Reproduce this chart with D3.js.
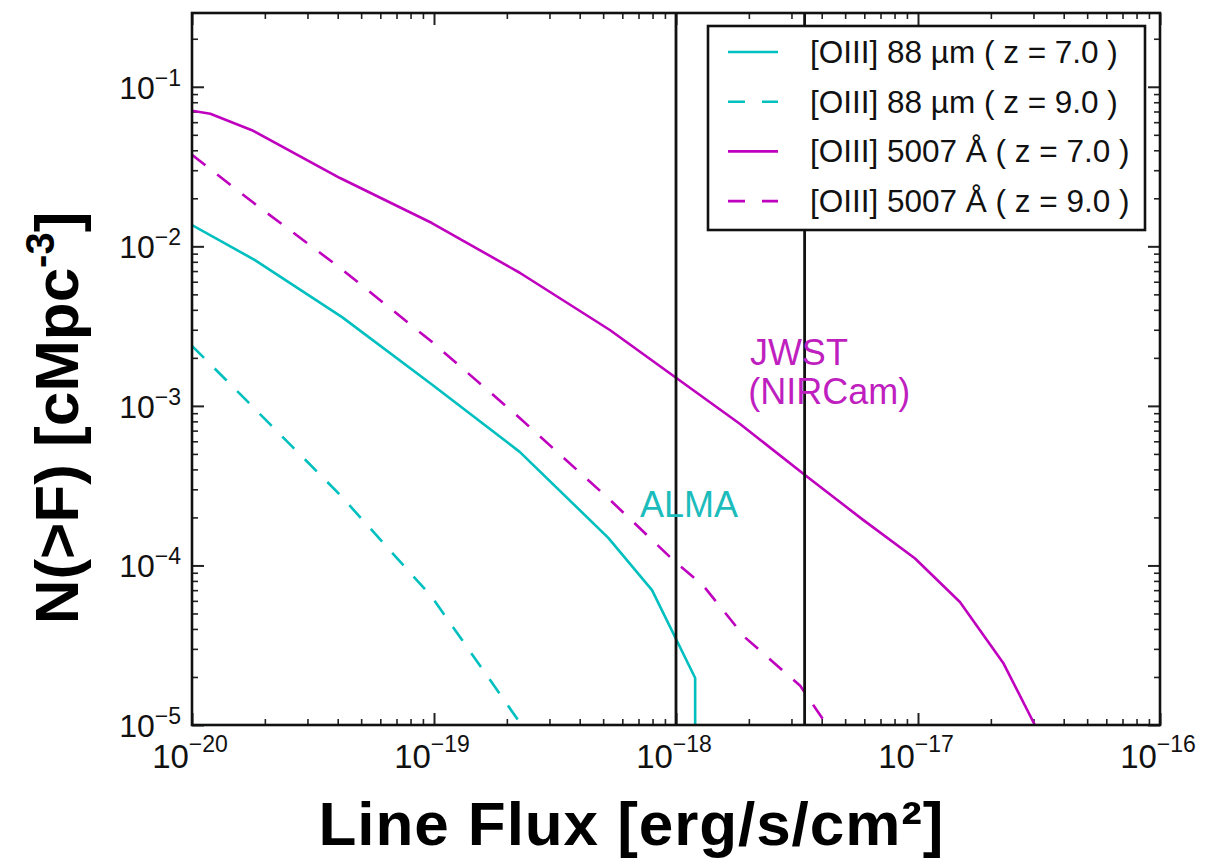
<!DOCTYPE html>
<html>
<head>
<meta charset="utf-8">
<script src="https://cdn.jsdelivr.net/npm/d3@7"></script>
<style>
  html, body { margin: 0; padding: 0; background: #fff; }
  svg { display: block; }
  text { font-family: "Liberation Sans", Arial, Helvetica, sans-serif; }
</style>
</head>
<body>
<svg id="chart" width="1228" height="859"></svg>
<script>
// Cumulative number density of [OIII] emitters above a given line flux

// [OIII] 88 µm, z = 7.0
const flux88z7 = [1.0e-20, 1.82e-20, 4.17e-20, 9.8e-20, 2.26e-19, 5.25e-19, 7.96e-19, 1.2e-18, 1.2e-18];
const n88z7    = [0.0136, 0.0082, 0.0036, 0.00136, 5.15e-4, 1.49e-4, 7.0e-5, 1.97e-5, 1.0e-7];

// [OIII] 88 µm, z = 9.0
const flux88z9 = [1.0e-20, 1.82e-20, 4.09e-20, 9.8e-20, 2.3e-19];
const n88z9    = [0.00238, 9.57e-4, 2.77e-4, 6.35e-5, 1.0e-5];

// [OIII] 5007 Å, z = 7.0
const flux5007z7 = [1.0e-20, 1.19e-20, 1.79e-20, 4.09e-20, 9.8e-20, 2.26e-19, 5.33e-19, 1.0e-18,
                    1.84e-18, 3.41e-18, 5.93e-18, 9.7e-18, 1.49e-17, 2.25e-17, 3.04e-17];
const n5007z7    = [0.0708, 0.0678, 0.0530, 0.0268, 0.0140, 0.00683, 0.00299, 0.00150,
                    7.7e-4, 3.69e-4, 1.93e-4, 1.11e-4, 5.9e-5, 2.45e-5, 1.0e-5];

// [OIII] 5007 Å, z = 9.0
const flux5007z9 = [1.0e-20, 1.79e-20, 4.09e-20, 9.8e-20, 2.26e-19, 5.33e-19, 1.0e-18,
                    1.29e-18, 1.92e-18, 3.26e-18, 4.2e-18];
const n5007z9    = [0.0375, 0.0188, 0.00733, 0.00252, 8.4e-4, 2.58e-4, 1.04e-4,
                    7.55e-5, 3.56e-5, 1.76e-5, 1.0e-5];

// Series labels and styles
const seriesNames  = ["[OIII] 88 µm ( z = 7.0 )", "[OIII] 88 µm ( z = 9.0 )",
                      "[OIII] 5007 Å ( z = 7.0 )", "[OIII] 5007 Å ( z = 9.0 )"];
const seriesColors = ["#00bfbf", "#00bfbf", "#bf00bf", "#bf00bf"];
const seriesDashed = [false, true, false, true];

// Instrument sensitivity limits (line flux)
const limitNames  = ["ALMA", "JWST"];
const limitFluxes = [1.0e-18, 3.4e-18];

// Annotation labels, anchored in data coordinates
const noteTexts  = ["ALMA", "JWST", "(NIRCam)"];
const noteFlux   = [7.1e-19, 2.02e-18, 1.99e-18];
const noteN      = [2.0e-4, 1.8e-3, 1.03e-3];
const noteColors = ["#1cbcbc", "#bf1fbf", "#bf1fbf"];

// Axis ticks
const xTickExponents = [-20, -19, -18, -17, -16];
const yTickExponents = [-5, -4, -3, -2, -1];
const xDomain = [1e-20, 1e-16];
const yDomain = [1e-5, 0.29];

const svg = d3.select("#chart");
const plotLeft = 192, plotRight = 1160, plotTop = 13, plotBottom = 725;

const x = d3.scaleLog().domain(xDomain).range([plotLeft, plotRight]);
const y = d3.scaleLog().domain(yDomain).range([plotBottom, plotTop]);

const xMajor = xTickExponents.map(e => Math.pow(10, e));
const yMajor = yTickExponents.map(e => Math.pow(10, e));
const isMajor = v => Math.abs(Math.log10(v) - Math.round(Math.log10(v))) < 1e-9;
const xMinor = x.ticks().filter(v => !isMajor(v));
const yMinor = y.ticks().filter(v => !isMajor(v));

svg.append("defs").append("clipPath").attr("id", "plotClip")
  .append("rect").attr("x", plotLeft).attr("y", plotTop)
  .attr("width", plotRight - plotLeft).attr("height", plotBottom - plotTop);

// Tick marks on all four sides, pointing inward
function tickGroup(axisFn, scale, values, size, transform) {
  const g = svg.append("g").attr("transform", transform)
    .call(axisFn(scale).tickValues(values).tickSize(-size).tickSizeOuter(0).tickFormat(""));
  g.select(".domain").remove();
  g.selectAll(".tick line").attr("stroke", "#222").attr("stroke-width", size > 8 ? 2 : 1.6);
  return g;
}
tickGroup(d3.axisBottom, x, xMajor, 12, `translate(0,${plotBottom})`);
tickGroup(d3.axisBottom, x, xMinor, 6, `translate(0,${plotBottom})`);
tickGroup(d3.axisTop, x, xMajor, 12, `translate(0,${plotTop})`);
tickGroup(d3.axisTop, x, xMinor, 6, `translate(0,${plotTop})`);
tickGroup(d3.axisLeft, y, yMajor, 12, `translate(${plotLeft},0)`);
tickGroup(d3.axisLeft, y, yMinor, 6, `translate(${plotLeft},0)`);
tickGroup(d3.axisRight, y, yMajor, 12, `translate(${plotRight},0)`);
tickGroup(d3.axisRight, y, yMinor, 6, `translate(${plotRight},0)`);

// Tick labels with superscript exponents
xTickExponents.forEach(e => {
  const t = svg.append("text")
    .attr("x", x(Math.pow(10, e)) - 2).attr("y", 768)
    .attr("text-anchor", "middle").attr("font-size", 33).attr("fill", "#111");
  t.append("tspan").text("10");
  t.append("tspan").attr("font-size", 23).attr("dy", -16).text("\u2212" + Math.abs(e));
});
yTickExponents.forEach(e => {
  const t = svg.append("text")
    .attr("x", 181).attr("y", y(Math.pow(10, e)) + 12)
    .attr("text-anchor", "end").attr("font-size", 32).attr("fill", "#111");
  t.append("tspan").text("10");
  t.append("tspan").attr("font-size", 23).attr("dy", -13).text("\u2212" + Math.abs(e));
});

// Curves
const plot = svg.append("g").attr("clip-path", "url(#plotClip)");
const lineGen = d3.line().x(d => x(d[0])).y(d => y(d[1]));
const seriesData = [
  d3.zip(flux88z7, n88z7),
  d3.zip(flux88z9, n88z9),
  d3.zip(flux5007z7, n5007z7),
  d3.zip(flux5007z9, n5007z9)
];
seriesData.forEach((pts, i) => {
  plot.append("path")
    .attr("d", lineGen(pts))
    .attr("fill", "none")
    .attr("stroke", seriesColors[i])
    .attr("stroke-width", 2.6)
    .attr("stroke-dasharray", seriesDashed[i] ? "17,15" : null)
    .attr("stroke-linejoin", "round");
});

// Sensitivity limits
limitFluxes.forEach(f => {
  svg.append("line")
    .attr("x1", x(f)).attr("x2", x(f))
    .attr("y1", y(yDomain[1])).attr("y2", y(yDomain[0]))
    .attr("stroke", "#111").attr("stroke-width", 2.8);
});

// Annotations
noteTexts.forEach((t, i) => {
  svg.append("text")
    .attr("x", x(noteFlux[i])).attr("y", y(noteN[i]))
    .attr("font-size", 36).attr("fill", noteColors[i]).text(t);
});

// Frame
svg.append("rect")
  .attr("x", plotLeft).attr("y", plotTop)
  .attr("width", plotRight - plotLeft).attr("height", plotBottom - plotTop)
  .attr("fill", "none").attr("stroke", "#111").attr("stroke-width", 2.6);

// Legend
const legend = svg.append("g");
legend.append("rect")
  .attr("x", 708).attr("y", 26).attr("width", 437).attr("height", 204)
  .attr("fill", "#fff").attr("stroke", "#111").attr("stroke-width", 2.6);
seriesNames.forEach((name, i) => {
  const ry = 52 + i * 49.7;
  legend.append("line")
    .attr("x1", 728).attr("x2", 778).attr("y1", ry).attr("y2", ry)
    .attr("stroke", seriesColors[i]).attr("stroke-width", 2.6)
    .attr("stroke-dasharray", seriesDashed[i] ? "17,17" : null);
  legend.append("text")
    .attr("x", 810).attr("y", ry + 11)
    .attr("font-size", 31.5).attr("fill", "#111").text(name);
});

// Axis titles
svg.append("text")
  .attr("x", 631).attr("y", 845)
  .attr("text-anchor", "middle").attr("font-size", 62).attr("font-weight", "bold")
  .attr("textLength", 625).attr("lengthAdjust", "spacing")
  .attr("fill", "#000").text("Line Flux [erg/s/cm\u00b2]");

const yTitle = svg.append("text")
  .attr("transform", "translate(78,418) rotate(-90)")
  .attr("text-anchor", "middle").attr("font-size", 62).attr("font-weight", "bold")
  .attr("fill", "#000");
yTitle.append("tspan").text("N(>F) [cMpc");
yTitle.append("tspan").attr("font-size", 40).attr("dy", -24).text("-3");
yTitle.append("tspan").attr("dy", 24).text("]");
</script>
</body>
</html>
